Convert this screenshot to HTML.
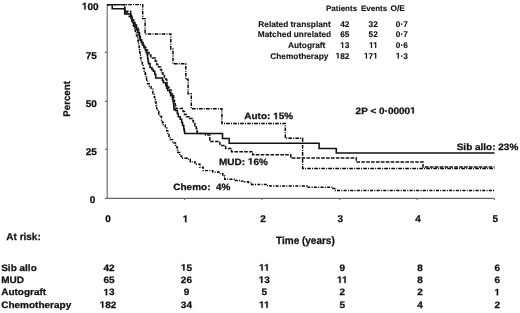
<!DOCTYPE html>
<html><head><meta charset="utf-8"><style>
html,body{margin:0;padding:0;background:#fff;width:520px;height:313px;overflow:hidden}
svg{display:block;filter:grayscale(1)}
text{font-family:"Liberation Sans",sans-serif;font-weight:bold;text-rendering:geometricPrecision}
.o{fill-opacity:0;stroke-opacity:0}
</style></head><body>
<svg width="520" height="313" viewBox="0 0 520 313">
<rect width="520" height="313" fill="#fff"/>
<g fill="none" stroke="#666" stroke-width="1.1">
<path d="M107.2,4 V198.4 H494.5"/>
<path d="M105,52.4H107.2M105,101.4H107.2M105,149.3H107.2M105,198.4H107.2"/>
<path d="M184.6,198.4v1.6M262.1,198.4v1.6M339.7,198.4v1.6M417.1,198.4v1.6M494.5,198.4v1.6"/>
</g>
<clipPath id="cp"><rect x="100" y="3.9" width="420" height="200"/></clipPath>
<g fill="none" stroke-linejoin="miter" stroke-linecap="butt" clip-path="url(#cp)">
<path d="M107.2,4.5H124.7V13.0H127.5H129.2V16.5H131.0V20.0H132.0V22.5H133.0V25.0H133.8V27.5H134.5V30.0H135.4V32.5H136.3V35.0H137.1V37.5H137.8V40.0H138.2V42.5H138.7V45.0H139.1V47.5H139.5V50.0H139.8V52.5H140.0V55.0H140.5V57.6H140.9V60.1H141.4V62.7H142.4V65.6H143.3V68.4H144.2V71.3H145.2V74.2H145.9V77.1H146.6V79.9H147.6V83.8H149.3V86.4H151.0V89.1H152.9V93.4H154.3V97.3H154.8V99.7H155.3V102.0H156.0V105.4H156.7V108.8H158.1V111.7H158.8V114.1H159.6V116.5H161.5V120.3H162.4V122.7H163.4V125.1H165.3V128.0H166.8V130.9H167.8V134.8H169.0V137.2H170.2V139.6H172.6V142.9H175.5V145.3H176.9V147.7H177.4V150.1H177.9V152.5H179.8V155.9H181.7V158.3H184.6H187.0V159.2H190.3V161.9H195.1V164.3H199.9V167.3H203.1V170.6H212.7V172.0H218.9V173.6H222.8V176.0H224.7V179.2H231.7H235.5V180.5H240.6V181.1H244.5V181.8H248.3V182.4H251.5V184.4H262.3H266.2V185.6H270.0V186.0H307.0V187.2H333.0V188.5H335.5V190.5H494.5" stroke="#000" stroke-width="1.45" stroke-dasharray="3,1.3,1,1.3"/>
<path d="M107.2,4.5H142.7V18.6H145.1V34.0H170.8V49.0H173.0V63.8H185.8V79.3H188.1V93.8H191.3V108.7H221.9V123.5H285.3V138.3H302.6V168.4H494.5" stroke="#000" stroke-width="1.45" stroke-dasharray="3.6,1.2,1,1.2"/>
<path d="M107.2,4.5H124.7V11.2H129.6H130.6V14.1H131.5V17.1H132.5V20.0H133.8V22.5H135.0V25.0H136.5V27.5H138.0V30.0H138.8V32.5H139.5V35.0H140.0V37.5H140.5V40.0H141.8V42.5H143.0V45.0H144.5V47.5H146.0V50.0H147.5V52.5H149.0V55.0H150.9V57.9H155.3V61.2H156.7V64.6H158.6V67.0H160.5V69.4H161.5V72.7H162.9V75.6H164.4V79.0H166.3V79.5H166.7V82.2H167.0V85.0H168.0V87.5H169.0V90.0H171.0V94.0H173.5V97.7H174.0V100.3H174.5V103.0H175.2V105.8H175.9V108.6H181.7H183.1V111.5H184.5V114.4H186.4V116.8H189.1V118.6H192.0V120.5H193.4V123.4H194.9V125.8H196.3V128.7H196.8V131.1H197.3V133.4H205.5V134.9H209.8V141.6H219.9V145.5H225.6V148.4H231.5V151.7H252.7V154.8H290.8V158.0H356.3V162.0H423.0V167.0H494.5" stroke="#111" stroke-width="1.5" stroke-dasharray="3.6,1.3"/>
<path d="M107.2,4.5H112.2V8.8H124.7V14.0H129.6H130.8V17.0H132.0V20.0H133.0V22.5H134.0V25.0H135.2V27.5H136.5V30.0H137.8V32.5H139.0V35.0H139.5V37.5H140.0V40.0H141.2V42.5H142.4V45.0H143.9V47.5H145.3V50.0H146.2V52.5H147.2V55.0H147.6V58.8H148.1V61.2H148.5V63.6H150.0V67.5H151.9V69.4H153.3V71.3H154.8V74.2H155.7V78.0H161.5H162.4V80.4H163.4V82.8H165.8V85.8H166.8V88.2H167.7V90.5H169.7V92.5H170.6V95.8H172.5V99.2H173.0V101.5H173.5V103.8H173.8V106.7H174.0V109.6H175.4V110.5H177.3V113.4H178.3V116.8H180.2V119.2H181.7V122.5H182.6V125.4H183.8V128.7H184.2V131.1H184.7V133.4H222.5V138.4H229.2V143.3H319.1V148.4H336.3V153.0H494.5" stroke="#111" stroke-width="1.55"/>
</g>
<g font-family="Liberation Sans, sans-serif" font-weight="bold" fill="#111" stroke="#111" stroke-width="0.25">
<path transform="matrix(1.0204,0,0,1,98.6,9.6) translate(-16.359,0.000) scale(0.004785,-0.004785)" stroke-width="52.24" d="M478,0L478,1170L140,959L140,1180L493,1409L759,1409L759,0Z"/>
<path transform="matrix(1.0204,0,0,1,185.5,222.3) translate(-2.727,0.000) scale(0.004785,-0.004785)" stroke-width="52.24" d="M478,0L478,1170L140,959L140,1180L493,1409L759,1409L759,0Z"/>
<path transform="matrix(1.0000,0,0,1,349.4,47.9) translate(-9.250,0.000) scale(0.004053,-0.004053)" stroke-width="24.67" d="M478,0L478,1170L140,959L140,1180L493,1409L759,1409L759,0Z"/>
<path transform="matrix(1.0000,0,0,1,377.8,47.9) translate(-8.797,0.000) scale(0.004053,-0.004053)" stroke-width="24.67" d="M478,0L478,1170L140,959L140,1180L493,1409L759,1409L759,0Z"/>
<path transform="matrix(1.0000,0,0,1,377.8,47.9) translate(-4.625,0.000) scale(0.004053,-0.004053)" stroke-width="24.67" d="M478,0L478,1170L140,959L140,1180L493,1409L759,1409L759,0Z"/>
<path transform="matrix(1.0000,0,0,1,349.4,58.6) translate(-13.859,0.000) scale(0.004053,-0.004053)" stroke-width="24.67" d="M478,0L478,1170L140,959L140,1180L493,1409L759,1409L759,0Z"/>
<path transform="matrix(1.0000,0,0,1,377.8,58.6) translate(-13.875,0.000) scale(0.004053,-0.004053)" stroke-width="24.67" d="M478,0L478,1170L140,959L140,1180L493,1409L759,1409L759,0Z"/>
<path transform="matrix(1.0000,0,0,1,377.8,58.6) translate(-4.625,0.000) scale(0.004053,-0.004053)" stroke-width="24.67" d="M478,0L478,1170L140,959L140,1180L493,1409L759,1409L759,0Z"/>
<path transform="matrix(1.0000,0,0,1,395.8,58.6) translate(0.000,0.000) scale(0.004053,-0.004053)" stroke-width="24.67" d="M478,0L478,1170L140,959L140,1180L493,1409L759,1409L759,0Z"/>
<path transform="matrix(1.0870,0,0,1,244.3,119.2) translate(26.531,0.000) scale(0.004492,-0.004492)" stroke-width="55.65" d="M478,0L478,1170L140,959L140,1180L493,1409L759,1409L759,0Z"/>
<path transform="matrix(1.0870,0,0,1,355.6,113.6) translate(50.156,0.000) scale(0.004492,-0.004492)" stroke-width="55.65" d="M478,0L478,1170L140,959L140,1180L493,1409L759,1409L759,0Z"/>
<path transform="matrix(1.0870,0,0,1,219,164.6) translate(26.547,0.000) scale(0.004492,-0.004492)" stroke-width="55.65" d="M478,0L478,1170L140,959L140,1180L493,1409L759,1409L759,0Z"/>
<path transform="matrix(1.0753,0,0,1,186.4,270.6) translate(-5.172,0.000) scale(0.004541,-0.004541)" stroke-width="55.05" d="M478,0L478,1170L140,959L140,1180L493,1409L759,1409L759,0Z"/>
<path transform="matrix(1.0753,0,0,1,264.3,270.6) translate(-4.922,0.000) scale(0.004541,-0.004541)" stroke-width="55.05" d="M478,0L478,1170L140,959L140,1180L493,1409L759,1409L759,0Z"/>
<path transform="matrix(1.0753,0,0,1,264.3,270.6) translate(-0.250,0.000) scale(0.004541,-0.004541)" stroke-width="55.05" d="M478,0L478,1170L140,959L140,1180L493,1409L759,1409L759,0Z"/>
<path transform="matrix(1.0753,0,0,1,264.3,282.9) translate(-5.172,0.000) scale(0.004541,-0.004541)" stroke-width="55.05" d="M478,0L478,1170L140,959L140,1180L493,1409L759,1409L759,0Z"/>
<path transform="matrix(1.0753,0,0,1,342.3,282.9) translate(-4.922,0.000) scale(0.004541,-0.004541)" stroke-width="55.05" d="M478,0L478,1170L140,959L140,1180L493,1409L759,1409L759,0Z"/>
<path transform="matrix(1.0753,0,0,1,342.3,282.9) translate(-0.250,0.000) scale(0.004541,-0.004541)" stroke-width="55.05" d="M478,0L478,1170L140,959L140,1180L493,1409L759,1409L759,0Z"/>
<path transform="matrix(1.0753,0,0,1,109.0,295.3) translate(-5.172,0.000) scale(0.004541,-0.004541)" stroke-width="55.05" d="M478,0L478,1170L140,959L140,1180L493,1409L759,1409L759,0Z"/>
<path transform="matrix(1.0753,0,0,1,497.2,295.3) translate(-2.586,0.000) scale(0.004541,-0.004541)" stroke-width="55.05" d="M478,0L478,1170L140,959L140,1180L493,1409L759,1409L759,0Z"/>
<path transform="matrix(1.0753,0,0,1,108.0,307.8) translate(-7.758,0.000) scale(0.004541,-0.004541)" stroke-width="55.05" d="M478,0L478,1170L140,959L140,1180L493,1409L759,1409L759,0Z"/>
<path transform="matrix(1.0753,0,0,1,264.3,307.8) translate(-4.922,0.000) scale(0.004541,-0.004541)" stroke-width="55.05" d="M478,0L478,1170L140,959L140,1180L493,1409L759,1409L759,0Z"/>
<path transform="matrix(1.0753,0,0,1,264.3,307.8) translate(-0.250,0.000) scale(0.004541,-0.004541)" stroke-width="55.05" d="M478,0L478,1170L140,959L140,1180L493,1409L759,1409L759,0Z"/>
<text transform="matrix(1.0204,0,0,1,98.6,9.6)" font-size="9.80" text-anchor="end" ><tspan class="o">1</tspan>00</text>
<text transform="matrix(1.0204,0,0,1,96.8,58.8)" font-size="9.80" text-anchor="end" >75</text>
<text transform="matrix(1.0204,0,0,1,96.8,106.6)" font-size="9.80" text-anchor="end" >50</text>
<text transform="matrix(1.0204,0,0,1,96.8,155.1)" font-size="9.80" text-anchor="end" >25</text>
<text transform="matrix(1.0204,0,0,1,95.4,203.3)" font-size="9.80" text-anchor="end" >0</text>
<text transform="matrix(1.0204,0,0,1,108,222.3)" font-size="9.80" text-anchor="middle" >0</text>
<text transform="matrix(1.0204,0,0,1,185.5,222.3)" font-size="9.80" text-anchor="middle" ><tspan class="o">1</tspan></text>
<text transform="matrix(1.0204,0,0,1,263,222.3)" font-size="9.80" text-anchor="middle" >2</text>
<text transform="matrix(1.0204,0,0,1,340.3,222.3)" font-size="9.80" text-anchor="middle" >3</text>
<text transform="matrix(1.0204,0,0,1,418,222.3)" font-size="9.80" text-anchor="middle" >4</text>
<text transform="matrix(1.0204,0,0,1,495.3,222.3)" font-size="9.80" text-anchor="middle" >5</text>
<text font-size="9.7" text-anchor="middle" transform="translate(70.1,98.9) rotate(-90)">Percent</text>
<text transform="matrix(0.9434,0,0,1,305.4,243.6)" font-size="10.60" text-anchor="middle" >Time (years)</text>
<text transform="matrix(1.0000,0,0,1,6.3,240.3)" font-size="10.00" text-anchor="start" >At risk:</text>
<text transform="matrix(1.0000,0,0,1,326,11.0)" font-size="8.00" text-anchor="start" stroke-width="0.1" >Patients</text>
<text transform="matrix(1.0000,0,0,1,361,11.0)" font-size="8.00" text-anchor="start" stroke-width="0.1" >Events</text>
<text transform="matrix(1.0000,0,0,1,390.6,11.0)" font-size="8.30" text-anchor="start" stroke-width="0.1" >O/E</text>
<text transform="matrix(1.0000,0,0,1,258.3,27.2)" font-size="8.30" text-anchor="start" stroke-width="0.1" >Related transplant</text>
<text transform="matrix(1.0000,0,0,1,349.4,27.2)" font-size="8.30" text-anchor="end" stroke-width="0.1" >42</text>
<text transform="matrix(1.0000,0,0,1,377.8,27.2)" font-size="8.30" text-anchor="end" stroke-width="0.1" >32</text>
<text transform="matrix(1.0000,0,0,1,395.8,27.2)" font-size="8.30" text-anchor="start" stroke-width="0.1" >0·7</text>
<text transform="matrix(1.0000,0,0,1,257.8,37.4)" font-size="8.30" text-anchor="start" stroke-width="0.1" >Matched unrelated</text>
<text transform="matrix(1.0000,0,0,1,349.4,37.4)" font-size="8.30" text-anchor="end" stroke-width="0.1" >65</text>
<text transform="matrix(1.0000,0,0,1,377.8,37.4)" font-size="8.30" text-anchor="end" stroke-width="0.1" >52</text>
<text transform="matrix(1.0000,0,0,1,395.8,37.4)" font-size="8.30" text-anchor="start" stroke-width="0.1" >0·7</text>
<text transform="matrix(1.0000,0,0,1,288,47.9)" font-size="8.30" text-anchor="start" stroke-width="0.1" >Autograft</text>
<text transform="matrix(1.0000,0,0,1,349.4,47.9)" font-size="8.30" text-anchor="end" stroke-width="0.1" ><tspan class="o">1</tspan>3</text>
<text transform="matrix(1.0000,0,0,1,377.8,47.9)" font-size="8.30" text-anchor="end" stroke-width="0.1" ><tspan class="o">1</tspan><tspan class="o">1</tspan></text>
<text transform="matrix(1.0000,0,0,1,395.8,47.9)" font-size="8.30" text-anchor="start" stroke-width="0.1" >0·6</text>
<text transform="matrix(1.0000,0,0,1,270.3,58.6)" font-size="8.30" text-anchor="start" stroke-width="0.1" >Chemotherapy</text>
<text transform="matrix(1.0000,0,0,1,349.4,58.6)" font-size="8.30" text-anchor="end" stroke-width="0.1" ><tspan class="o">1</tspan>82</text>
<text transform="matrix(1.0000,0,0,1,377.8,58.6)" font-size="8.30" text-anchor="end" stroke-width="0.1" ><tspan class="o">1</tspan>7<tspan class="o">1</tspan></text>
<text transform="matrix(1.0000,0,0,1,395.8,58.6)" font-size="8.30" text-anchor="start" stroke-width="0.1" ><tspan class="o">1</tspan>·3</text>
<text transform="matrix(1.0870,0,0,1,244.3,119.2)" font-size="9.20" text-anchor="start" >Auto: <tspan class="o">1</tspan>5%</text>
<text transform="matrix(1.0870,0,0,1,355.6,113.6)" font-size="9.20" text-anchor="start" >2P &lt; 0·0000<tspan class="o">1</tspan></text>
<text transform="matrix(1.0870,0,0,1,456.7,149.7)" font-size="9.20" text-anchor="start" >Sib allo: 23%</text>
<text transform="matrix(1.0870,0,0,1,219,164.6)" font-size="9.20" text-anchor="start" >MUD: <tspan class="o">1</tspan>6%</text>
<text transform="matrix(1.0870,0,0,1,173.3,190)" font-size="9.20" text-anchor="start" >Chemo:  4%</text>
<text transform="matrix(1.0753,0,0,1,1.2,270.6)" font-size="9.30" text-anchor="start" >Sib allo</text>
<text transform="matrix(1.0753,0,0,1,109.0,270.6)" font-size="9.30" text-anchor="middle" >42</text>
<text transform="matrix(1.0753,0,0,1,186.4,270.6)" font-size="9.30" text-anchor="middle" ><tspan class="o">1</tspan>5</text>
<text transform="matrix(1.0753,0,0,1,264.3,270.6)" font-size="9.30" text-anchor="middle" ><tspan class="o">1</tspan><tspan class="o">1</tspan></text>
<text transform="matrix(1.0753,0,0,1,342.3,270.6)" font-size="9.30" text-anchor="middle" >9</text>
<text transform="matrix(1.0753,0,0,1,420,270.6)" font-size="9.30" text-anchor="middle" >8</text>
<text transform="matrix(1.0753,0,0,1,497.2,270.6)" font-size="9.30" text-anchor="middle" >6</text>
<text transform="matrix(1.0753,0,0,1,1.2,282.9)" font-size="9.30" text-anchor="start" >MUD</text>
<text transform="matrix(1.0753,0,0,1,109.0,282.9)" font-size="9.30" text-anchor="middle" >65</text>
<text transform="matrix(1.0753,0,0,1,186.4,282.9)" font-size="9.30" text-anchor="middle" >26</text>
<text transform="matrix(1.0753,0,0,1,264.3,282.9)" font-size="9.30" text-anchor="middle" ><tspan class="o">1</tspan>3</text>
<text transform="matrix(1.0753,0,0,1,342.3,282.9)" font-size="9.30" text-anchor="middle" ><tspan class="o">1</tspan><tspan class="o">1</tspan></text>
<text transform="matrix(1.0753,0,0,1,420,282.9)" font-size="9.30" text-anchor="middle" >8</text>
<text transform="matrix(1.0753,0,0,1,497.2,282.9)" font-size="9.30" text-anchor="middle" >6</text>
<text transform="matrix(1.0753,0,0,1,1.2,295.3)" font-size="9.30" text-anchor="start" >Autograft</text>
<text transform="matrix(1.0753,0,0,1,109.0,295.3)" font-size="9.30" text-anchor="middle" ><tspan class="o">1</tspan>3</text>
<text transform="matrix(1.0753,0,0,1,186.4,295.3)" font-size="9.30" text-anchor="middle" >9</text>
<text transform="matrix(1.0753,0,0,1,264.3,295.3)" font-size="9.30" text-anchor="middle" >5</text>
<text transform="matrix(1.0753,0,0,1,342.3,295.3)" font-size="9.30" text-anchor="middle" >2</text>
<text transform="matrix(1.0753,0,0,1,420,295.3)" font-size="9.30" text-anchor="middle" >2</text>
<text transform="matrix(1.0753,0,0,1,497.2,295.3)" font-size="9.30" text-anchor="middle" ><tspan class="o">1</tspan></text>
<text transform="matrix(1.0753,0,0,1,1.2,307.8)" font-size="9.30" text-anchor="start" >Chemotherapy</text>
<text transform="matrix(1.0753,0,0,1,108.0,307.8)" font-size="9.30" text-anchor="middle" ><tspan class="o">1</tspan>82</text>
<text transform="matrix(1.0753,0,0,1,186.4,307.8)" font-size="9.30" text-anchor="middle" >34</text>
<text transform="matrix(1.0753,0,0,1,264.3,307.8)" font-size="9.30" text-anchor="middle" ><tspan class="o">1</tspan><tspan class="o">1</tspan></text>
<text transform="matrix(1.0753,0,0,1,342.3,307.8)" font-size="9.30" text-anchor="middle" >5</text>
<text transform="matrix(1.0753,0,0,1,420,307.8)" font-size="9.30" text-anchor="middle" >4</text>
<text transform="matrix(1.0753,0,0,1,497.2,307.8)" font-size="9.30" text-anchor="middle" >2</text>
</g>
</svg>
</body></html>
